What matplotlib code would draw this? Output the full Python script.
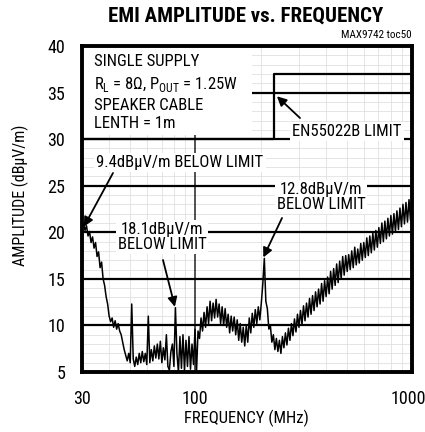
import numpy as np
import matplotlib
matplotlib.use("Agg")
import matplotlib.pyplot as plt
from matplotlib.patches import Rectangle
from matplotlib.transforms import ScaledTranslation

plt.rcParams['font.family'] = ['Roboto Condensed', 'Liberation Sans', 'DejaVu Sans']
plt.rcParams['mathtext.fontset'] = 'custom'
plt.rcParams['mathtext.rm'] = 'Roboto Condensed'

# data
f_start, f_stop = 30, 1000
amplitude = [
    20.5, 21.0, 20.2, 20.7, 19.6, 20.1, 18.9, 19.5, 18.3, 18.9,
    17.4, 17.9, 16.2, 16.8, 15.0, 14.3, 13.1, 12.3, 11.0, 10.4,
    10.8, 9.8, 10.5, 9.6, 10.2, 9.4, 9.0, 8.2, 7.4, 6.8,
    6.2, 7.0, 6.0, 12.3, 6.4, 5.6, 6.6, 5.8, 7.0, 6.0,
    7.2, 6.1, 7.0, 5.8, 11.0, 6.0, 7.4, 6.2, 7.8, 6.5,
    8.0, 6.4, 8.3, 6.0, 7.6, 6.3, 9.0, 5.6, 5.2, 7.2,
    8.0, 5.6, 11.9, 7.0, 5.0, 8.8, 5.4, 9.0, 5.2, 8.4,
    5.6, 8.8, 5.3, 8.0, 5.8, 9.6, 5.0, 9.4, 8.6, 10.8,
    9.4, 11.4, 9.8, 12.0, 10.2, 12.6, 10.5, 12.4, 10.8, 12.8,
    10.9, 12.3, 10.2, 12.0, 10.0, 11.8, 9.8, 11.2, 9.2, 11.0,
    9.4, 10.9, 9.0, 10.6, 8.4, 10.2, 8.2, 9.8, 7.8, 10.0,
    8.2, 10.8, 9.2, 11.3, 9.8, 11.7, 10.2, 12.0, 10.6, 12.4,
    14.5, 17.2, 12.6, 11.8, 9.6, 10.0, 8.2, 9.0, 7.4, 8.6,
    7.2, 8.4, 7.0, 8.8, 7.6, 9.2, 7.9, 9.7, 8.4, 10.2,
    8.9, 10.7, 9.3, 11.2, 9.8, 11.6, 10.1, 12.1, 10.5, 12.4,
    10.9, 12.9, 11.2, 13.2, 11.6, 13.6, 12.0, 13.9, 12.3, 14.5,
    12.6, 14.8, 13.1, 15.2, 13.4, 15.8, 13.9, 16.1, 14.3, 16.6,
    14.6, 16.9, 15.0, 17.4, 15.4, 17.5, 15.8, 17.6, 16.0, 18.0,
    16.2, 18.4, 16.5, 18.2, 16.7, 18.8, 17.0, 18.9, 17.3, 19.4,
    17.5, 19.6, 17.8, 19.9, 18.1, 20.2, 18.4, 20.5, 18.8, 21.0,
    19.0, 21.2, 19.3, 21.5, 19.6, 21.8, 19.8, 22.0, 20.1, 22.3,
    20.3, 22.6, 20.6, 23.0, 20.9, 23.2, 21.1, 23.5, 21.3, 22.8,
]
freq = np.geomspace(f_start, f_stop, len(amplitude))

limit_freq = [30, 230, 230, 1000]
limit_level = [30, 30, 37, 37]

box_lines = ['SINGLE SUPPLY', r'R$_\mathregular{L}$ = 8$\Omega$, P$_\mathregular{OUT}$ = 1.25W',
             'SPEAKER CABLE', 'LENTH = 1m']

W, H = 425, 432
fig = plt.figure(figsize=(W / 100, H / 100), dpi=100)
ax = fig.add_axes([82 / W, 1 - 372 / H, 330 / W, 326 / H])


def axf(x, y):
    # pixel position -> axes fraction
    return ((x - 82) / 330, 1 - (y - 46) / 326)


ax.set_xscale('log')
ax.set_xlim(30, 1000)
ax.set_ylim(5, 40)

# grid
for v in range(6, 40):
    if v % 5:
        ax.axhline(v, color='#e0e0e0', lw=0.6, zorder=1)
for v in list(range(40, 100, 10)) + list(range(200, 1000, 100)):
    ax.axvline(v, color='#e0e0e0', lw=0.6, zorder=1)
ax.axvline(100, color='#222222', lw=1.1, zorder=1.5)
for v in range(10, 40, 5):
    ax.axhline(v, color='black', lw=1.6, zorder=2)

ax.plot(limit_freq, limit_level, color='black', lw=1.6, zorder=2)
ax.plot(freq, amplitude, color='black', lw=1.1, zorder=5)

ax.set_xticks([30, 100, 1000])
ax.set_xticklabels(['30', '100', '1000'])
ax.xaxis.set_minor_locator(plt.NullLocator())
ax.set_yticks(range(5, 41, 5))
ax.tick_params(length=0, labelsize=13, pad=12)
ax.tick_params(axis='x', pad=13)
last = ax.get_xticklabels()[-1]
last.set_transform(last.get_transform() + ScaledTranslation(-4 / 100, 0, fig.dpi_scale_trans))
for s in ax.spines.values():
    s.set_linewidth(2.8)
    s.set_zorder(10)

# white box with conditions
ax.add_patch(Rectangle((30, 30.4), 183 - 30, 9.6, facecolor='white', edgecolor='none', zorder=3))
for y, line in zip([62, 84, 105, 124], box_lines):
    ax.text(*axf(94, y), line, transform=ax.transAxes, fontsize=12, va='center', ha='left', zorder=4)

bb = dict(facecolor='white', edgecolor='none', pad=1.5)
ap = dict(arrowstyle='-|>', color='black', lw=1.3, mutation_scale=14, shrinkA=0, shrinkB=0)

ax.annotate('EN55022B LIMIT', xy=(238, 34.5), xytext=axf(347, 131), textcoords='axes fraction',
            fontsize=12, ha='center', va='center', bbox=bb, zorder=6)
ax.annotate('', xy=(238, 34.6), xytext=axf(300, 118), textcoords='axes fraction',
            arrowprops=ap, zorder=6)

ax.annotate(u'9.4dB\u03bcV/m BELOW LIMIT', xy=(30.6, 20.6), xytext=axf(180, 162), textcoords='axes fraction',
            fontsize=12, ha='center', va='center', bbox=bb, zorder=6)
ax.annotate('', xy=(30.6, 20.6), xytext=axf(113, 173), textcoords='axes fraction',
            arrowprops=ap, zorder=6)

ax.annotate(u'18.1dB\u03bcV/m\nBELOW LIMIT', xy=(80.5, 11.9), xytext=axf(162, 237), textcoords='axes fraction',
            fontsize=12, ha='center', va='center', linespacing=0.95, bbox=bb, zorder=6)
ax.annotate('', xy=(80.5, 12.0), xytext=axf(163, 260), textcoords='axes fraction',
            arrowprops=ap, zorder=6)

ax.annotate(u'12.8dB\u03bcV/m\nBELOW LIMIT', xy=(207, 17.2), xytext=axf(321, 197), textcoords='axes fraction',
            fontsize=12, ha='center', va='center', linespacing=0.95, bbox=bb, zorder=6)
ax.annotate('', xy=(206, 17.3), xytext=axf(282, 218), textcoords='axes fraction',
            arrowprops=ap, zorder=6)

fig.text(246 / W, 1 - 16 / H, 'EMI AMPLITUDE vs. FREQUENCY', fontsize=15, fontweight='bold',
         ha='center', va='center')
fig.text(412 / W, 1 - 35 / H, 'MAX9742 toc50', fontsize=8, ha='right', va='center')
fig.text(246 / W, 1 - 418 / H, 'FREQUENCY (MHz)', fontsize=12, ha='center', va='center')
fig.text(20 / W, 1 - 195 / H, u'AMPLITUDE (dB\u03bcV/m)', fontsize=11.5, ha='center', va='center',
         rotation=90)

fig.savefig('out.png', dpi=100)
